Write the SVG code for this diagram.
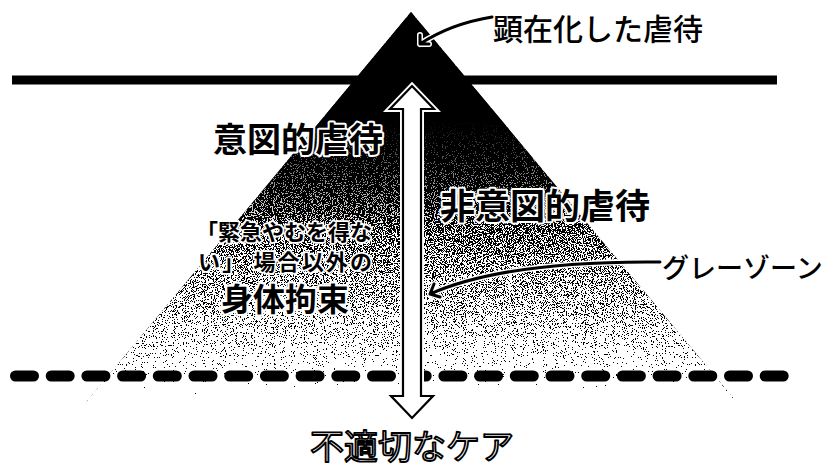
<svg xmlns="http://www.w3.org/2000/svg" width="827" height="470" viewBox="0 0 827 470">
<defs>
<linearGradient id="pyr" x1="0" y1="12" x2="0" y2="405" gradientUnits="userSpaceOnUse">
<stop offset="0" stop-color="#000"/>
<stop offset="0.35" stop-color="#000"/>
<stop offset="0.45" stop-color="#1a1a1a"/>
<stop offset="0.555" stop-color="#333"/>
<stop offset="0.656" stop-color="#4d4d4d"/>
<stop offset="0.758" stop-color="#606060"/>
<stop offset="0.86" stop-color="#818181"/>
<stop offset="0.924" stop-color="#9c9c9c"/>
<stop offset="0.975" stop-color="#d4d4d4"/>
<stop offset="1" stop-color="#fff"/>
</linearGradient>
<linearGradient id="top" x1="0" y1="12" x2="0" y2="230" gradientUnits="userSpaceOnUse">
<stop offset="0" stop-color="#000" stop-opacity="1"/>
<stop offset="0.5" stop-color="#000" stop-opacity="1"/>
<stop offset="1" stop-color="#000" stop-opacity="0"/>
</linearGradient>
<filter id="dither" x="0" y="0" width="1" height="1" color-interpolation-filters="sRGB">
<feTurbulence type="fractalNoise" baseFrequency="0.9" numOctaves="2" seed="4" result="n"/>
<feColorMatrix in="n" type="matrix" values="-1 0 0 0 1  -1 0 0 0 1  -1 0 0 0 1  0 0 0 0 1" result="ng"/>
<feComposite in="SourceGraphic" in2="ng" operator="arithmetic" k1="0" k2="1" k3="1.6" k4="-0.55" result="d"/>
<feComponentTransfer in="d" result="t">
<feFuncR type="discrete" tableValues="0 1"/>
<feFuncG type="discrete" tableValues="0 1"/>
<feFuncB type="discrete" tableValues="0 1"/>
<feFuncA type="linear" slope="0" intercept="1"/>
</feComponentTransfer>
<feComposite in="t" in2="SourceGraphic" operator="in"/>
</filter>
<style>
.lbl{font-family:"Noto Sans CJK JP","Noto Sans",sans-serif;font-weight:700;fill:#000;stroke:#fff;stroke-width:4;paint-order:stroke;stroke-linejoin:round}
.plain{font-family:"Noto Sans CJK JP","Noto Sans",sans-serif;font-weight:500;fill:#000}
.halo{fill:none;stroke:#fff;stroke-width:6;stroke-linecap:round;stroke-linejoin:round}
.lead{fill:none;stroke:#000;stroke-width:3;stroke-linecap:round;stroke-linejoin:round}
</style>
</defs>
<g id="pyramid">
<polygon points="411,12 84,405 739,405" fill="url(#pyr)" filter="url(#dither)"/>
<polygon points="411,12 84,405 739,405" fill="url(#top)"/>
</g>
<g id="lines">
<line x1="12" y1="80" x2="777" y2="80" stroke="#000" stroke-width="9"/>
<line x1="15.5" y1="376" x2="790" y2="376" stroke="#000" stroke-width="11" stroke-linecap="round" stroke-dasharray="18 17.7"/>
</g>
<g id="connectors">
<polygon id="double-arrow" points="412,86 434,109 421,109 421,396 433,396 412,418 391,396 403,396 403,109 390,109" fill="#fff" stroke="#fff" stroke-width="6" stroke-linejoin="miter"/>
<polygon points="412,86 434,109 421,109 421,396 433,396 412,418 391,396 403,396 403,109 390,109" fill="#fff" stroke="#000" stroke-width="2.2"/>
<path class="halo" d="M492,17 C462,22 438,32 420,44 M420,35 L420,44 L429,44"/>
<path class="lead" d="M492,17 C462,22 438,32 420,44 M420,35 L420,44 L429,44"/>
<path class="halo" d="M660,262 C560,261 480,272 430,294 M434,284 L430,294 L440,297"/>
<path class="lead" d="M660,262 C560,261 480,272 430,294 M434,284 L430,294 L440,297"/>
</g>
<g id="label-kenzai">
<text class="plain" x="493" y="40" font-size="30" font-weight="700">顕在化した虐待</text>
</g>
<g id="label-ito">
<text class="lbl" x="213" y="152" font-size="34">意図的虐待</text>
</g>
<g id="label-hiito">
<text class="lbl" x="440" y="219" font-size="35">非意図的虐待</text>
</g>
<g id="label-kosoku">
<text class="lbl" x="196" y="240" font-size="22" style="stroke-width:3.5">「緊急やむを得な</text>
<text class="lbl" x="198" y="270" font-size="22" textLength="174" style="stroke-width:3.5">い」 場合以外の</text>
<text class="lbl" x="221" y="311" font-size="32" style="stroke-width:4.5">身体拘束</text>
</g>
<g id="label-gray">
<text class="plain" x="662" y="278" font-size="27">グレーゾーン</text>
</g>
<g id="label-futekisetsu">
<text x="310" y="459" font-size="34" font-family="Noto Sans CJK JP,Noto Sans,sans-serif" font-weight="400" fill="#fff" stroke="#000" stroke-width="1.8" stroke-linejoin="round">不適切なケア</text>
</g>
</svg>
